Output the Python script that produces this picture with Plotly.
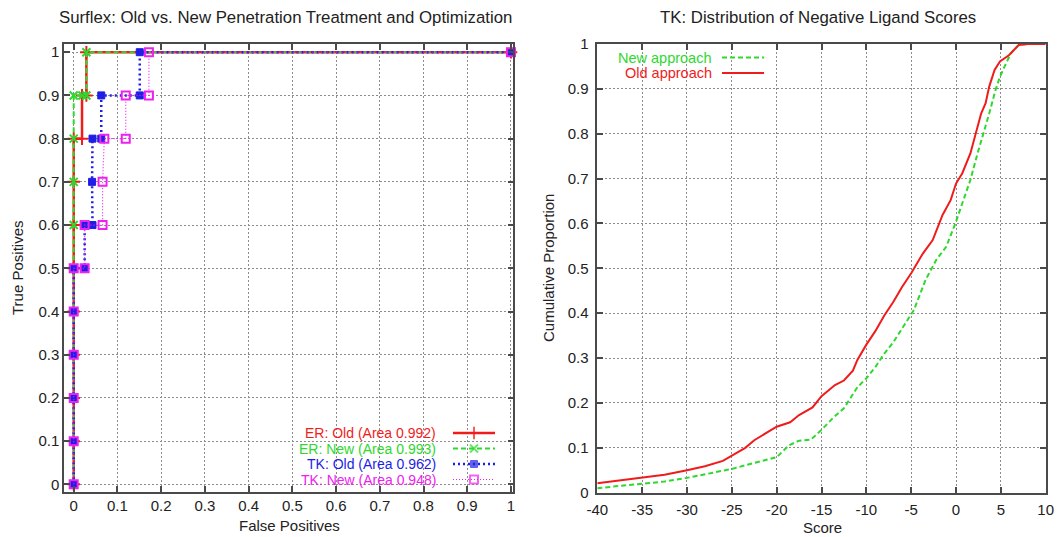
import plotly.graph_objects as go

# ---------------- ROC curves (left panel) ----------------
er_old_fp = [0, 0, 0, 0, 0, 0, 0, 0, 0, 0.019, 0.019, 0.029, 0.029, 1.0]
er_old_tp = [0, 0.1, 0.2, 0.3, 0.4, 0.5, 0.6, 0.7, 0.8, 0.8, 0.9, 0.9, 1.0, 1.0]

er_new_fp = [0, 0, 0, 0, 0, 0, 0, 0, 0, 0, 0.020, 0.029, 0.029, 1.0]
er_new_tp = [0, 0.1, 0.2, 0.3, 0.4, 0.5, 0.6, 0.7, 0.8, 0.9, 0.9, 0.9, 1.0, 1.0]

tk_old_fp = [0, 0, 0, 0, 0, 0, 0.025, 0.025, 0.043, 0.042, 0.043, 0.063, 0.063, 0.151, 0.151, 1.0]
tk_old_tp = [0, 0.1, 0.2, 0.3, 0.4, 0.5, 0.5, 0.6, 0.6, 0.7, 0.8, 0.8, 0.9, 0.9, 1.0, 1.0]

tk_new_fp = [0, 0, 0, 0, 0, 0, 0.025, 0.025, 0.066, 0.066, 0.070, 0.119, 0.119, 0.172, 0.172, 1.0]
tk_new_tp = [0, 0.1, 0.2, 0.3, 0.4, 0.5, 0.5, 0.6, 0.6, 0.7, 0.8, 0.8, 0.9, 0.9, 1.0, 1.0]

roc_labels = ["ER: Old (Area 0.992)", "ER: New (Area 0.993)",
              "TK: Old (Area 0.962)", "TK: New (Area 0.948)"]

# ---------------- Score distributions (right panel) ----------------
score_new = [-40, -37.5, -35, -32.5, -30, -27.5, -25, -22.2, -20, -18.6, -17.5, -16.2,
             -15, -13.6, -12.5, -11, -10, -9, -8, -7, -6, -4.7, -3.4, -2.2, -1.1, 0,
             0.7, 1.6, 2.4, 3.1, 3.7, 4.4, 4.9, 5.4, 6.1, 7, 8, 10]
prop_new = [0.010, 0.015, 0.021, 0.025, 0.033, 0.043, 0.053, 0.068, 0.079, 0.106, 0.116, 0.118,
            0.140, 0.169, 0.188, 0.235, 0.255, 0.280, 0.310, 0.335, 0.365, 0.407, 0.474, 0.519,
            0.548, 0.604, 0.645, 0.697, 0.756, 0.801, 0.845, 0.897, 0.927, 0.949, 0.979, 0.998,
            1.0, 1.0]

score_old = [-40, -37.5, -35, -32.5, -30, -28, -26, -25, -23.5, -22.5, -21, -20, -18.5, -17.5,
             -16, -15, -13.5, -12.5, -11.5, -11, -10, -9, -8, -7, -6, -5, -3.7, -2.6, -1.5,
             -0.6, 0, 0.7, 1.6, 2.2, 2.8, 3.3, 3.7, 4.3, 4.9, 5.9, 7, 8, 10]
prop_old = [0.021, 0.027, 0.033, 0.040, 0.050, 0.059, 0.071, 0.082, 0.100, 0.117, 0.136, 0.147,
            0.157, 0.173, 0.190, 0.215, 0.240, 0.250, 0.272, 0.296, 0.330, 0.360, 0.395, 0.425,
            0.459, 0.489, 0.533, 0.563, 0.619, 0.652, 0.689, 0.712, 0.756, 0.801, 0.845, 0.868,
            0.905, 0.942, 0.961, 0.975, 0.998, 1.0, 1.0]

dist_labels = ["New approach", "Old approach"]

roc_ticks = [i / 10 for i in range(11)]
roc_ticktext = ["0"] + [f"{t:.1f}" for t in roc_ticks[1:-1]] + ["1"]
score_ticks = list(range(-40, 11, 5))
score_ticktext = [str(v) for v in score_ticks]  # plain hyphen-minus labels

# ---------------- styling ----------------
W, H = 1057, 537
RED, GREEN, BLUE, MAGENTA = "#f01c1c", "#2ed82e", "#1e1ee6", "#f020f0"
FONT = "Arial, Liberation Sans, sans-serif"
TEXT = "#222222"
FRAME = "#4a4a4a"


def px(x):
    return x / W


def py(y):
    return 1 - y / H


styles = [
    dict(color=RED, width=2.5, dash="solid", symbol="cross-thin-open", size=9, mlw=2),
    dict(color=GREEN, width=2, dash="5px,3px", symbol="x-thin-open", size=8, mlw=2),
    dict(color=BLUE, width=2.5, dash="2px,3px", symbol="square", size=7, mlw=1),
    dict(color=MAGENTA, width=1.2, dash="1px,2px", symbol="square-open", size=8, mlw=2),
]

fig = go.Figure()

roc_series = [(er_old_fp, er_old_tp), (er_new_fp, er_new_tp),
              (tk_old_fp, tk_old_tp), (tk_new_fp, tk_new_tp)]
for (fp, tp), st, name in zip(roc_series, styles, roc_labels):
    fig.add_trace(go.Scatter(
        x=fp, y=tp, name=name, mode="lines+markers", xaxis="x", yaxis="y",
        line=dict(color=st["color"], width=st["width"], dash=st["dash"]),
        marker=dict(symbol=st["symbol"], size=st["size"], color=st["color"],
                    line=dict(color=st["color"], width=st["mlw"])),
        showlegend=False, cliponaxis=False,
    ))

fig.add_trace(go.Scatter(
    x=score_new, y=prop_new, name=dist_labels[0], mode="lines", xaxis="x2", yaxis="y2",
    line=dict(color=GREEN, width=2, dash="5px,3px"), showlegend=False,
))
fig.add_trace(go.Scatter(
    x=score_old, y=prop_old, name=dist_labels[1], mode="lines", xaxis="x2", yaxis="y2",
    line=dict(color=RED, width=2), showlegend=False,
))

# ---------------- key samples (drawn on a pixel-space overlay) ----------------
annotations = []
roc_key_y = [433, 448.5, 464, 479.5]
for st, name, ky in zip(styles, roc_labels, roc_key_y):
    fig.add_trace(go.Scatter(
        x=[453, 474, 495], y=[ky, ky, ky], mode="lines+markers", xaxis="x3", yaxis="y3",
        line=dict(color=st["color"], width=st["width"], dash=st["dash"]),
        marker=dict(symbol=st["symbol"], size=[0, st["size"], 0], color=st["color"],
                    line=dict(color=st["color"], width=st["mlw"])),
        showlegend=False, hoverinfo="skip",
    ))
    annotations.append(dict(x=px(438), y=py(ky), xref="paper", yref="paper",
                            text=name, showarrow=False, xanchor="right", yanchor="middle",
                            font=dict(family=FONT, size=14, color=st["color"])))

dist_key = [(dist_labels[0], GREEN, "5px,3px", 57.5), (dist_labels[1], RED, "solid", 73)]
for name, col, dash, ky in dist_key:
    fig.add_trace(go.Scatter(
        x=[722, 764], y=[ky, ky], mode="lines", xaxis="x3", yaxis="y3",
        line=dict(color=col, width=2, dash=dash), showlegend=False, hoverinfo="skip",
    ))
    annotations.append(dict(x=px(714), y=py(ky), xref="paper", yref="paper",
                            text=name, showarrow=False, xanchor="right", yanchor="middle",
                            font=dict(family=FONT, size=14.5, color=col)))

# titles
annotations += [
    dict(x=px(285), y=py(17), xref="paper", yref="paper", showarrow=False,
         text="Surflex: Old vs. New Penetration Treatment and Optimization",
         xanchor="center", yanchor="middle", font=dict(family=FONT, size=16.8, color=TEXT)),
    dict(x=px(818), y=py(17), xref="paper", yref="paper", showarrow=False,
         text="TK: Distribution of Negative Ligand Scores",
         xanchor="center", yanchor="middle", font=dict(family=FONT, size=16.8, color=TEXT)),
    dict(x=px(289), y=py(525), xref="paper", yref="paper", showarrow=False,
         text="False Positives", xanchor="center", yanchor="middle",
         font=dict(family=FONT, size=15, color=TEXT)),
    dict(x=px(18), y=py(268), xref="paper", yref="paper", showarrow=False,
         text="True Positives", textangle=-90, xanchor="center", yanchor="middle",
         font=dict(family=FONT, size=15, color=TEXT)),
    dict(x=px(822), y=py(527), xref="paper", yref="paper", showarrow=False,
         text="Score", xanchor="center", yanchor="middle",
         font=dict(family=FONT, size=15, color=TEXT)),
    dict(x=px(549), y=py(268), xref="paper", yref="paper", showarrow=False,
         text="Cumulative Proportion", textangle=-90, xanchor="center", yanchor="middle",
         font=dict(family=FONT, size=15, color=TEXT)),
]

axis_common = dict(
    showline=True, linecolor=FRAME, linewidth=1.5, mirror="ticks",
    ticks="inside", ticklen=6, tickwidth=1.5, tickcolor=FRAME,
    showgrid=True, gridcolor="#8c8c8c", gridwidth=1, griddash="2px,2px",
    zeroline=False, tickfont=dict(family=FONT, size=15, color=TEXT),
    fixedrange=True, automargin=False,
)

fig.update_layout(
    width=W, height=H, autosize=False,
    margin=dict(l=0, r=0, t=0, b=0, pad=0, autoexpand=False),
    paper_bgcolor="white", plot_bgcolor="rgba(0,0,0,0)",
    annotations=annotations,
    xaxis=dict(axis_common, domain=[px(64), px(513.3)], range=[-0.0222, 1.0053],
               tickvals=roc_ticks, ticktext=roc_ticktext, anchor="y"),
    yaxis=dict(axis_common, domain=[py(491.7), py(44)], range=[-0.017, 1.019],
               tickvals=roc_ticks, ticktext=roc_ticktext, anchor="x"),
    xaxis2=dict(axis_common, domain=[px(597.3), px(1045.7)], range=[-40, 10],
                tickvals=score_ticks, ticktext=score_ticktext, anchor="y2",
                ticklabelstandoff=3),
    yaxis2=dict(axis_common, domain=[py(492.7), py(44)], range=[0, 1],
                tickvals=roc_ticks, ticktext=roc_ticktext, anchor="x2",
                ticklabelstandoff=4),
    xaxis3=dict(domain=[0, 1], range=[0, W], visible=False, anchor="y3", fixedrange=True),
    yaxis3=dict(domain=[0, 1], range=[H, 0], visible=False, anchor="x3", fixedrange=True),
)

fig.write_html("out.html", config={"responsive": False})
